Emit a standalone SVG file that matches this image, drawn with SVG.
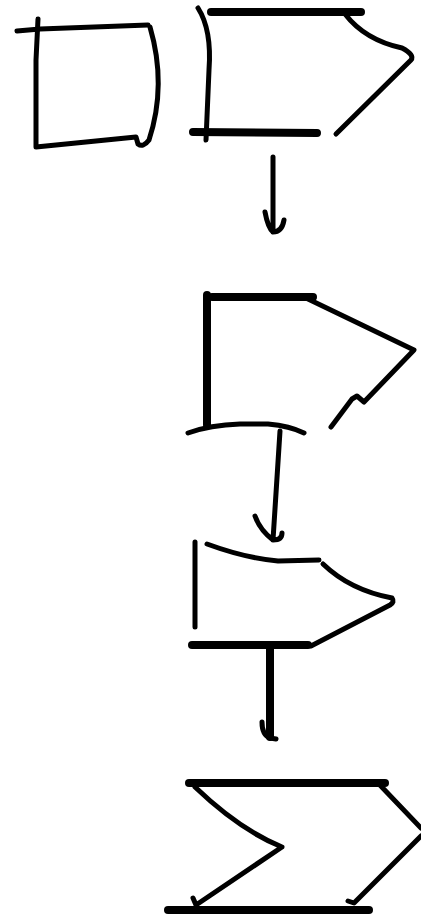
<svg xmlns="http://www.w3.org/2000/svg" width="421" height="917" viewBox="0 0 421 917">
<style>
.s{fill:none;stroke:#000;stroke-width:5;stroke-linecap:round;stroke-linejoin:round}
.t{fill:none;stroke:#000;stroke-width:8;stroke-linecap:round;stroke-linejoin:round}
</style>
<rect width="421" height="917" fill="#fff"/>
<g id="node1">
<path class="s" d="M17,31 L40,29 L148,25"/>
<path class="s" d="M38,19 L36,60 L36,147 L136,137 L138,144 Q143,148 149,140 Q167,85 150,27"/>
</g>
<g id="node2">
<path class="s" d="M198,8 Q212,30 209,70 L206,140"/>
<path class="t" d="M211,12 L361,12"/>
<path class="s" d="M345,14 Q365,40 402,48 Q415,55 411,60 L336,134"/>
<path class="t" d="M193,132 L317,133"/>
</g>
<g id="node3">
<path class="t" d="M207,295 L207,425"/>
<path class="t" d="M212,297 L313,297"/>
<path class="s" d="M308,299 L414,350 L364,402 L357,396 L352,399 L331,427"/>
<path class="s" d="M188,433 Q210,425 240,424 L268,424 Q290,426 304,433"/>
</g>
<g id="node4">
<path class="s" d="M195,542 L195,627"/>
<path class="s" d="M207,544 Q245,558 278,561 L319,560"/>
<path class="s" d="M323,564 Q350,590 392,598 Q395,602 390,605 L311,646"/>
<path class="t" d="M192,645 L308,645"/>
</g>
<g id="node5">
<path class="t" d="M189,783 L385,783"/>
<path class="s" d="M195,787 Q240,830 282,847 L196,905 M193,898 L196,905"/>
<path class="t" d="M168,910 L369,910"/>
<path class="s" d="M377,782 L421,828 M421,836 L354,903 L348,901"/>
</g>
<g id="connectors">
<path class="s" d="M273,157 L273,232 Q268,228 265,212 M273,232 Q282,232 284,220"/>
<path class="s" d="M280,431 L273,540 Q260,530 255,516 M273,540 Q282,540 282,533"/>
<path class="t" d="M270,646 L270,737"/>
<path class="s" d="M270,738 Q262,735 262,722 M270,738 L276,739"/>
</g>
</svg>
